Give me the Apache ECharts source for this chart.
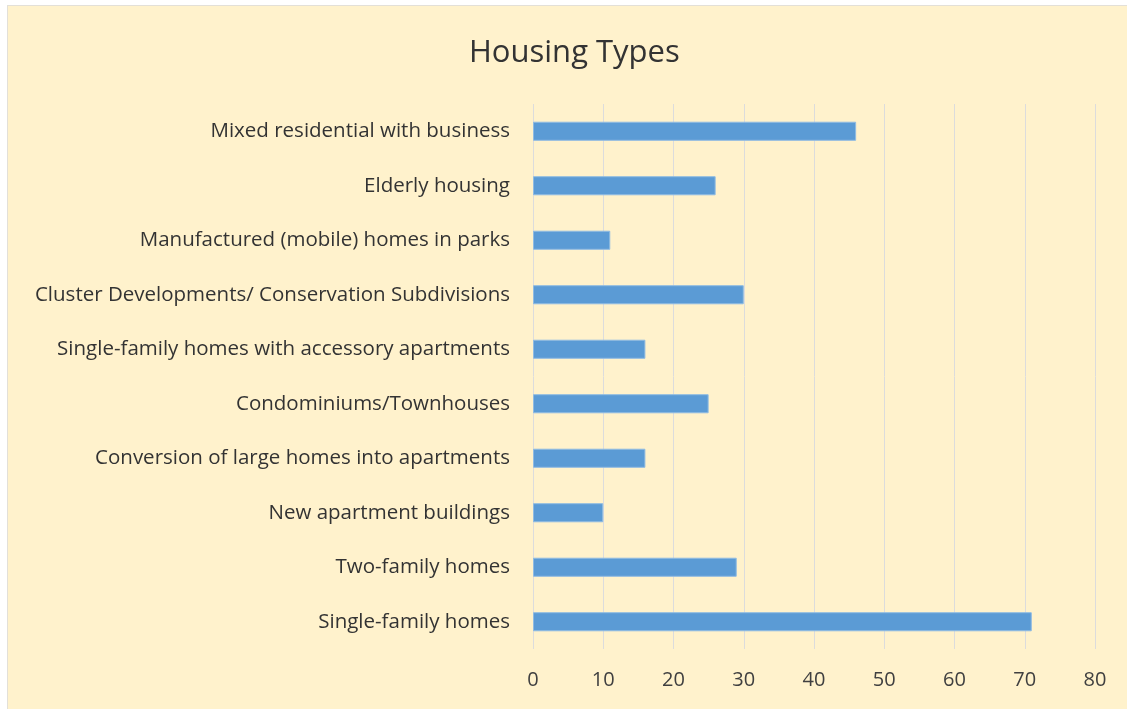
<!DOCTYPE html>
<html>
<head>
<meta charset="utf-8">
<script src="https://cdn.jsdelivr.net/npm/echarts@6/dist/echarts.min.js"></script>
<style>
  html, body { margin: 0; padding: 0; background: #fff; }
  #chart {
    position: absolute; left: 7px; top: 5px;
    width: 1119px; height: 703px;
    background: #FFF2CC; border: 1px solid #e3e0d8;
  }
</style>
</head>
<body>
<div id="chart"></div>
<script>
// Dữ liệu (từ dưới lên trên, theo thứ tự trục category)
const categories = [
  'Single-family homes',
  'Two-family homes',
  'New apartment buildings',
  'Conversion of large homes into apartments',
  'Condominiums/Townhouses',
  'Single-family homes with accessory apartments',
  'Cluster Developments/ Conservation Subdivisions',
  'Manufactured (mobile) homes in parks',
  'Elderly housing',
  'Mixed residential with business'
];
const values = [71, 29, 10, 16, 25, 16, 30, 11, 26, 46];
const xTicks = [0, 10, 20, 30, 40, 50, 60, 70, 80];

const myChart = echarts.init(document.getElementById('chart'));

const option = {
  backgroundColor: 'transparent',
  title: {
    text: 'Housing Types',
    left: 456,
    top: 27,
    textStyle: {
      color: '#333',
      fontSize: 31,
      fontWeight: 'normal',
      fontFamily: 'Open Sans'
    }
  },
  grid: { left: 525, right: 32, top: 98, bottom: 60 },
  xAxis: {
    type: 'value',
    min: xTicks[0],
    max: xTicks[xTicks.length - 1],
    interval: 10,
    axisLine: { show: false },
    axisTick: { show: false },
    axisLabel: {
      color: '#404040',
      fontSize: 20,
      margin: 21,
      fontFamily: 'Open Sans'
    },
    splitLine: { lineStyle: { color: '#dcdcdc', width: 1 } }
  },
  yAxis: {
    type: 'category',
    data: categories,
    axisLine: { show: false },
    axisTick: { show: false },
    axisLabel: {
      color: '#333',
      fontSize: 20.5,
      margin: 23,
      fontFamily: 'Open Sans'
    }
  },
  series: [{
    type: 'bar',
    data: values,
    barWidth: '35%',
    itemStyle: {
      color: '#5B9BD5',
      borderColor: '#8fbbe3',
      borderWidth: 1
    }
  }]
};

myChart.setOption(option);
window.addEventListener('resize', () => myChart.resize());
</script>
</body>
</html>
